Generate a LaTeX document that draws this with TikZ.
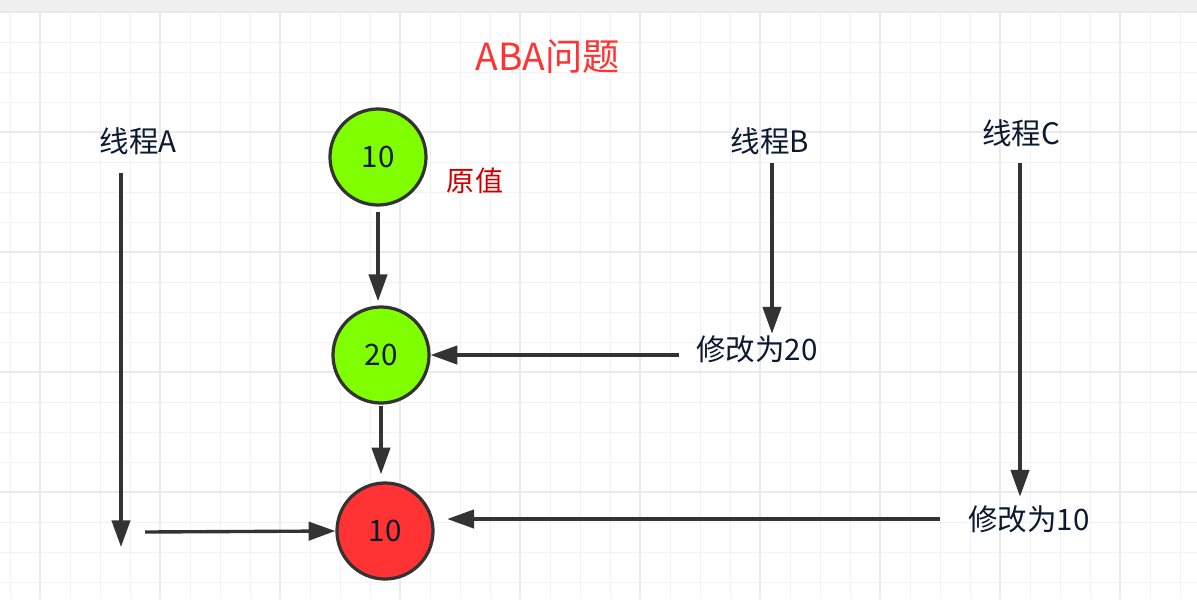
\documentclass[tikz,border=0pt]{standalone}
\usepackage{fontspec}
\setmainfont{Noto Sans CJK SC}
\usetikzlibrary{arrows.meta}

\definecolor{limefill}{HTML}{80FF00}
\definecolor{redfill}{HTML}{FF3333}
\definecolor{darkline}{HTML}{333333}
\definecolor{titlered}{HTML}{FF3333}
\definecolor{origred}{HTML}{CC0000}
\definecolor{inkblue}{HTML}{0A1A30}
\definecolor{gridminor}{HTML}{F2F2F2}
\definecolor{gridmajor}{HTML}{EAEAEA}
\definecolor{topbar}{HTML}{F0F0F0}

\tikzset{
  val/.style={circle,draw=darkline,line width=2.3pt,minimum size=2.4cm,inner sep=0pt,text=inkblue,font=\fontsize{21}{24}\selectfont},
  lbl/.style={text=inkblue,font=\fontsize{21}{25}\selectfont,inner sep=0pt},
  arr/.style={-{Triangle[length=19pt,width=13pt]},darkline,line width=2.4pt},
}

\begin{document}
\begin{tikzpicture}[x=0.025cm,y=-0.025cm]
\useasboundingbox (0,0) rectangle (1197,599);
\fill[white] (0,0) rectangle (1197,599);
% grid
\foreach \x in {10,40,...,1190} \draw[gridminor,line width=0.7pt] (\x,11) -- (\x,599);
\foreach \y in {42,72,...,599} \draw[gridminor,line width=0.7pt] (0,\y) -- (1197,\y);
\foreach \x in {40,160,...,1190} \draw[gridmajor,line width=1pt] (\x,11) -- (\x,599);
\foreach \y in {132,252,...,599} \draw[gridmajor,line width=1pt] (0,\y) -- (1197,\y);
\fill[topbar] (0,0) rectangle (1197,11);
\draw[gridmajor,line width=1pt] (0,12) -- (1197,12);

\node[font=\fontsize{26.5}{30}\selectfont,text=titlered] (title) at (548,57) {ABA问题};

% values
\node[val,fill=limefill] (orig) at (378,157) {10};
\node[text=origred,font=\fontsize{20}{24}\selectfont,inner sep=0pt] (origlbl) at (475,181) {原值};
\node[val,fill=limefill] (mid) at (381,355) {20};
\node[val,fill=redfill] (last) at (385,531) {10};

% threads
\node[lbl] (thA) at (138,141) {线程A};
\node[lbl] (thB) at (770,141) {线程B};
\node[lbl] (thC) at (1021,133) {线程C};
\node[lbl] (setB) at (757,349) {修改为20};
\node[lbl] (setC) at (1029,519) {修改为10};
\coordinate (aTop) at (121,173);
\coordinate (aEnd) at (121,547);
\coordinate (aFrom) at (145,532);
\coordinate (bTop) at (772,163);
\coordinate (cTop) at (1020,163);

\draw[arr] (aTop) -- (aEnd);
\draw[arr] (aFrom) -- (last.west);
\draw[arr,shorten <=4pt,shorten >=3pt] (orig.south) -- (orig.south |- mid.north);
\draw[arr,shorten <=1pt,shorten >=5pt] (mid.south) -- (mid.south |- last.north);
\draw[arr,shorten >=1pt] (bTop) -- (bTop |- setB.north);
\draw[arr,shorten >=6pt] (cTop) -- (cTop |- setC.north);
\draw[arr,shorten <=12pt] (setB.west |- mid) -- (mid);
\draw[arr,shorten <=20pt,shorten >=9pt] (setC.west) -- (setC.west -| last.east);
\end{tikzpicture}
\end{document}
